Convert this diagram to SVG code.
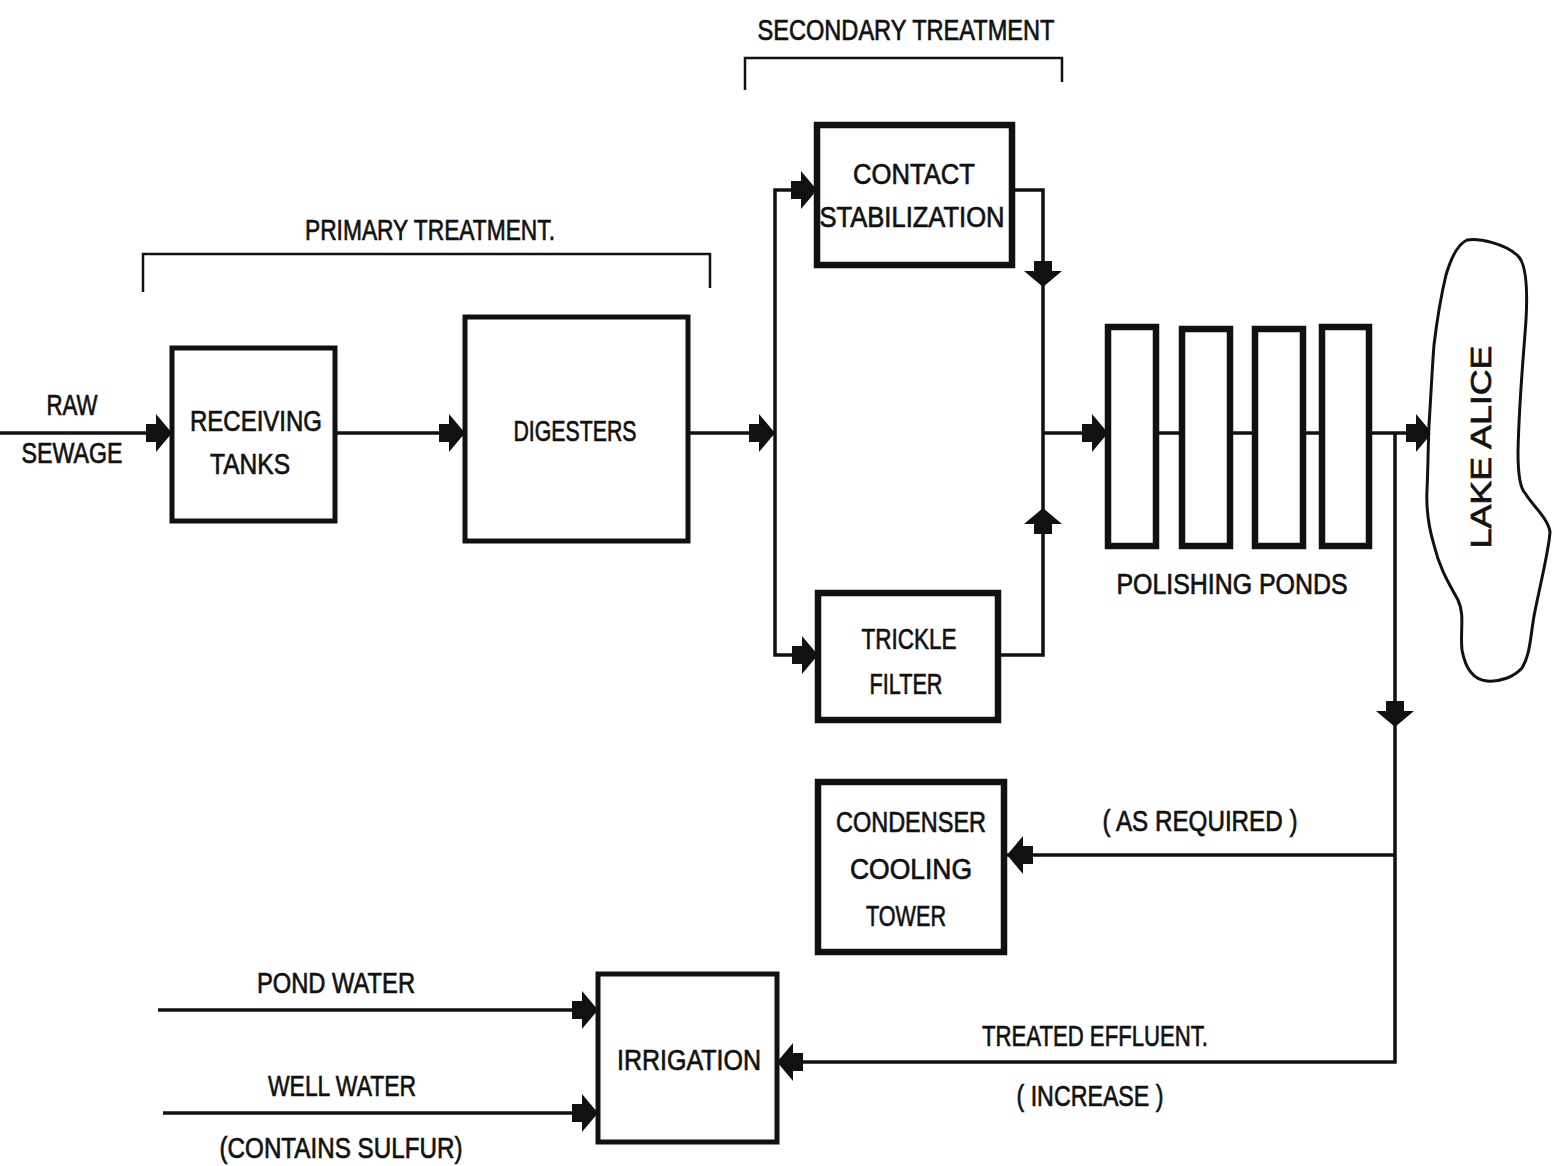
<svg xmlns="http://www.w3.org/2000/svg" xmlns:xlink="http://www.w3.org/1999/xlink" width="1562" height="1166" viewBox="0 0 1562 1166">
<style>
  .t { font-family: "Liberation Sans", Arial, sans-serif; font-size: 30px; text-anchor: middle; fill: #111; stroke: #111; stroke-width: 0.7; }
  .box { fill: #fff; stroke: #111; stroke-width: 5; }
  .thick { stroke-width: 6.5; }
  .line { fill: none; stroke: #111; stroke-width: 3.5; }
  .brk { fill: none; stroke: #111; stroke-width: 2.5; }
  .lake { fill: #fff; stroke: #111; stroke-width: 3; }
  .ah { fill: #111; }
</style>
<defs>
  <path id="ah" d="M0,0 L-16,-19 L-16,-9 L-26,-9 L-26,9 L-16,9 L-16,19 Z"/>
</defs>
<rect x="0" y="0" width="1562" height="1166" fill="#fff"/>

<g id="brackets">
  <path class="brk" d="M143,292 V254 H710 V288"/>
  <text class="t" x="430" y="240" textLength="250" lengthAdjust="spacingAndGlyphs">PRIMARY TREATMENT.</text>
  <path class="brk" d="M745,90 V58 H1062 V82"/>
  <text class="t" x="906" y="40" textLength="297" lengthAdjust="spacingAndGlyphs">SECONDARY TREATMENT</text>
</g>

<g id="connectors">
  <path class="line" d="M0,433 H172"/>
  <path class="line" d="M335,433 H465"/>
  <path class="line" d="M688,433 H775"/>
  <path class="line" d="M817,190 H775 V655 H818"/>
  <path class="line" d="M1012,190 H1043 V655 H998"/>
  <path class="line" d="M1043,433 H1108"/>
  <path class="line" d="M1156,433 H1182 M1230,433 H1255 M1303,433 H1322"/>
  <path class="line" d="M1369,433 H1432"/>
  <path class="line" d="M1395,433 V1062 H777"/>
  <path class="line" d="M1395,855 H1007"/>
  <path class="line" d="M158,1010 H598"/>
  <path class="line" d="M163,1113 H598"/>
  <use href="#ah" class="ah" transform="translate(172,433)"/>
  <use href="#ah" class="ah" transform="translate(465,433)"/>
  <use href="#ah" class="ah" transform="translate(775,433)"/>
  <use href="#ah" class="ah" transform="translate(817,190)"/>
  <use href="#ah" class="ah" transform="translate(818,655)"/>
  <use href="#ah" class="ah" transform="translate(1043,287) rotate(90)"/>
  <use href="#ah" class="ah" transform="translate(1043,508) rotate(-90)"/>
  <use href="#ah" class="ah" transform="translate(1108,433)"/>
  <use href="#ah" class="ah" transform="translate(1432,433)"/>
  <use href="#ah" class="ah" transform="translate(1395,727) rotate(90)"/>
  <use href="#ah" class="ah" transform="translate(1007,855) rotate(180)"/>
  <use href="#ah" class="ah" transform="translate(777,1062) rotate(180)"/>
  <use href="#ah" class="ah" transform="translate(598,1010)"/>
  <use href="#ah" class="ah" transform="translate(598,1113)"/>
</g>

<g id="raw-sewage">
  <text class="t" x="72" y="415" textLength="51" lengthAdjust="spacingAndGlyphs">RAW</text>
  <text class="t" x="72" y="463" textLength="101" lengthAdjust="spacingAndGlyphs">SEWAGE</text>
</g>

<g id="receiving-tanks">
  <rect class="box" x="172" y="348" width="163" height="173"/>
  <text class="t" x="256" y="431" textLength="132" lengthAdjust="spacingAndGlyphs">RECEIVING</text>
  <text class="t" x="250" y="474" textLength="80" lengthAdjust="spacingAndGlyphs">TANKS</text>
</g>

<g id="digesters">
  <rect class="box" x="465" y="317" width="223" height="224"/>
  <text class="t" x="575" y="441" textLength="123" lengthAdjust="spacingAndGlyphs">DIGESTERS</text>
</g>

<g id="contact-stabilization">
  <rect class="box thick" x="817" y="125" width="195" height="140"/>
  <text class="t" x="914" y="184" textLength="122" lengthAdjust="spacingAndGlyphs">CONTACT</text>
  <text class="t" x="912" y="227" textLength="185" lengthAdjust="spacingAndGlyphs">STABILIZATION</text>
</g>

<g id="trickle-filter">
  <rect class="box thick" x="818" y="593" width="180" height="127"/>
  <text class="t" x="909" y="649" textLength="95" lengthAdjust="spacingAndGlyphs">TRICKLE</text>
  <text class="t" x="906" y="694" textLength="73" lengthAdjust="spacingAndGlyphs">FILTER</text>
</g>

<g id="polishing-ponds">
  <rect class="box thick" x="1108" y="327" width="48" height="219"/>
  <rect class="box thick" x="1182" y="329" width="48" height="217"/>
  <rect class="box thick" x="1255" y="329" width="48" height="217"/>
  <rect class="box thick" x="1322" y="327" width="47" height="219"/>
  <text class="t" x="1232" y="594" textLength="231" lengthAdjust="spacingAndGlyphs">POLISHING PONDS</text>
</g>

<g id="lake-alice">
  <path class="lake" d="M1467,240 C1480,238 1505,244 1517,255 C1526,262 1528,285 1526,320 C1524,350 1519,400 1518,452 C1518,475 1520,488 1525,493 C1532,505 1548,518 1550,532 C1549,550 1540,585 1534,616 C1530,640 1530,655 1522,668 C1514,677 1500,682 1487,681 C1476,680 1466,672 1462,650 C1460,630 1465,615 1458,600 C1450,585 1440,570 1434,545 C1428,525 1426,510 1427,490 C1428,470 1428,450 1429,425 C1431,395 1432,370 1434,345 C1437,320 1440,300 1446,275 C1451,258 1458,244 1467,240 Z"/>
  <text class="t" x="0" y="0" font-size="25" textLength="203" lengthAdjust="spacingAndGlyphs" transform="translate(1491,447) rotate(-90)">LAKE ALICE</text>
</g>

<g id="condenser-cooling-tower">
  <rect class="box thick" x="818" y="782" width="186" height="170"/>
  <text class="t" x="911" y="832" textLength="150" lengthAdjust="spacingAndGlyphs">CONDENSER</text>
  <text class="t" x="911" y="879" textLength="122" lengthAdjust="spacingAndGlyphs">COOLING</text>
  <text class="t" x="906" y="926" textLength="80" lengthAdjust="spacingAndGlyphs">TOWER</text>
</g>

<g id="as-required">
  <text class="t" x="1200" y="831" textLength="195" lengthAdjust="spacingAndGlyphs">( AS REQUIRED )</text>
</g>

<g id="irrigation">
  <rect class="box" x="598" y="974" width="179" height="168"/>
  <text class="t" x="689" y="1070" textLength="144" lengthAdjust="spacingAndGlyphs">IRRIGATION</text>
</g>

<g id="pond-water">
  <text class="t" x="336" y="993" textLength="158" lengthAdjust="spacingAndGlyphs">POND WATER</text>
</g>

<g id="well-water">
  <text class="t" x="342" y="1096" textLength="148" lengthAdjust="spacingAndGlyphs">WELL WATER</text>
  <text class="t" x="341" y="1158" textLength="243" lengthAdjust="spacingAndGlyphs">(CONTAINS SULFUR)</text>
</g>

<g id="treated-effluent">
  <text class="t" x="1095" y="1046" textLength="226" lengthAdjust="spacingAndGlyphs">TREATED EFFLUENT.</text>
  <text class="t" x="1090" y="1106" textLength="147" lengthAdjust="spacingAndGlyphs">( INCREASE )</text>
</g>
</svg>
